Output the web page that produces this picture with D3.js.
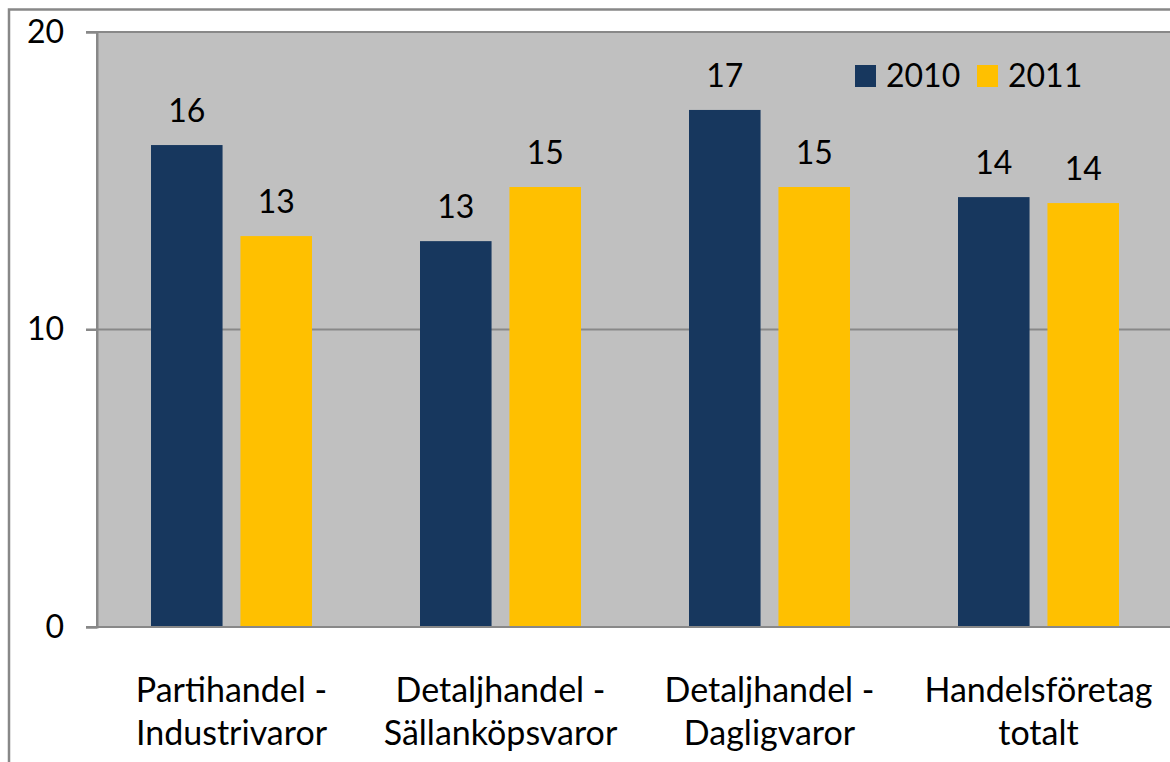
<!DOCTYPE html>
<html><head><meta charset="utf-8">
<script src="https://cdn.jsdelivr.net/npm/d3@7"></script>
<style>body{margin:0;background:#fff}svg{display:block}text{font-family:Lato,"Open Sans",sans-serif;fill:#000}</style>
</head><body>
<script>
const categories = [["Partihandel -","Industrivaror"],["Detaljhandel -","Sällanköpsvaror"],["Detaljhandel -","Dagligvaror"],["Handelsföretag","totalt"]];
const series = ["2010","2011"];
const values2010 = [16.2, 12.97, 17.38, 14.45];
const values2011 = [13.14, 14.79, 14.79, 14.25];
const yTicks = [0, 10, 20];
const colors = ["#17375e", "#ffc000"];

(function(){
const W = 1170, H = 762;
const svg = d3.select("body").append("svg").attr("width", W).attr("height", H);
// outer chart border
svg.append("rect").attr("x", 9).attr("y", 9.5).attr("width", W + 20).attr("height", H + 20)
  .attr("fill", "#fff").attr("stroke", "#888").attr("stroke-width", 2.5);

const pl = 97, pt = 32, pb = 627, pr = 97 + 4 * 269;
const x0 = d3.scaleBand().domain(d3.range(categories.length)).range([pl, pr]).paddingInner(0).paddingOuter(0);
const x1 = d3.scaleBand().domain(series).range([54, 269 - 54]).paddingInner(0.2).paddingOuter(0);
const y = d3.scaleLinear().domain([0, 20]).range([pb, pt]);

svg.append("rect").attr("x", pl).attr("y", pt).attr("width", pr - pl).attr("height", pb - pt).attr("fill", "#c0c0c0");

// gridlines
svg.append("g").selectAll("line").data(yTicks.filter(d => d > 0)).join("line")
  .attr("x1", pl - 11).attr("x2", pr).attr("y1", d => y(d)).attr("y2", d => y(d))
  .attr("stroke", "#888").attr("stroke-width", 2);

// y axis
const yAxis = svg.append("g").attr("transform", `translate(${pl},0)`)
  .call(d3.axisLeft(y).tickValues(yTicks).tickSize(11).tickPadding(22).tickFormat(d3.format("d")));
yAxis.select(".domain").attr("stroke", "#888").attr("stroke-width", 2);
yAxis.selectAll(".tick line").attr("stroke", "#888").attr("stroke-width", 2);
yAxis.selectAll(".tick text").attr("font-size", 32).attr("font-family", "Lato, 'Open Sans', sans-serif").attr("fill", "#000");

const data = categories.map((c, i) => ({i, vals: [values2010[i], values2011[i]]}));
const groups = svg.append("g").selectAll("g").data(data).join("g")
  .attr("transform", d => `translate(${x0(d.i)},0)`);
groups.selectAll("rect").data(d => d.vals.map((v, k) => ({s: series[k], v, k}))).join("rect")
  .attr("x", d => x1(d.s)).attr("width", x1.bandwidth())
  .attr("y", d => y(d.v)).attr("height", d => pb - y(d.v))
  .attr("fill", d => colors[d.k]);
groups.selectAll("text.val").data(d => d.vals.map((v, k) => ({s: series[k], v, k}))).join("text")
  .attr("class", "val")
  .attr("x", d => x1(d.s) + x1.bandwidth() / 2).attr("y", d => y(d.v) - 23)
  .attr("text-anchor", "middle").attr("font-size", 32)
  .text(d => Math.round(d.v));

// axis lines
svg.append("line").attr("x1", pl - 11).attr("x2", pr).attr("y1", pb).attr("y2", pb)
  .attr("stroke", "#888").attr("stroke-width", 2);
svg.append("line").attr("x1", pl).attr("x2", pl).attr("y1", pt).attr("y2", pb)
  .attr("stroke", "#888").attr("stroke-width", 2);

// category labels
const cl = svg.append("g").selectAll("text").data(categories).join("text")
  .attr("x", (d, i) => x0(i) + x0.bandwidth() / 2).attr("y", 702)
  .attr("text-anchor", "middle").attr("font-size", 34);
cl.selectAll("tspan").data(d => d).join("tspan")
  .attr("x", function() { return this.parentNode.getAttribute("x"); })
  .attr("dy", (d, j) => j === 0 ? 0 : 43).text(d => d);

// legend
const lg = svg.append("g").selectAll("g").data(series).join("g")
  .attr("transform", (d, i) => `translate(${855 + i * 122},65)`);
lg.append("rect").attr("width", 21).attr("height", 22).attr("fill", (d, i) => colors[i]);
lg.append("text").attr("x", 31).attr("y", 22).attr("font-size", 32).text(d => d);
})();
</script>
</body></html>
